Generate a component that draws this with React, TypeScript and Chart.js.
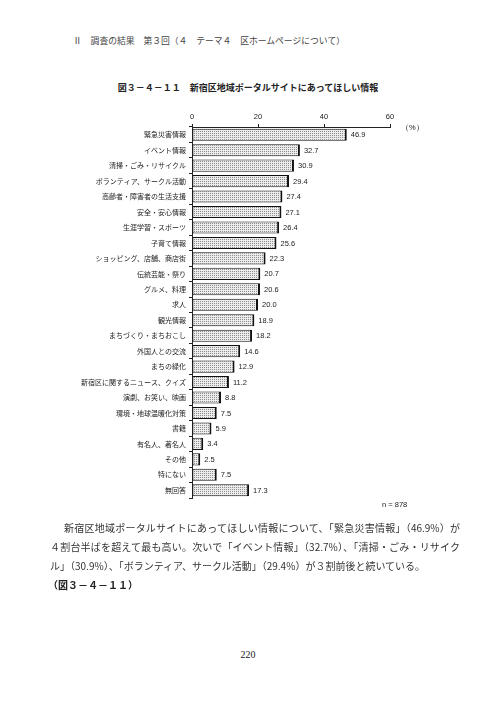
import React, { useEffect, useRef } from "react";
import { Chart, registerables } from "chart.js";

Chart.register(...registerables);

const headerText = "Ⅱ　調査の結果　第３回（４　テーマ４　区ホームページについて）";
const titleText = "図３－４－１１　新宿区地域ポータルサイトにあってほしい情報";
const unitText = "（%）";
const sampleText = "n = 878";
const pageNumber = "220";

const categories = [
  "緊急災害情報",
  "イベント情報",
  "清掃・ごみ・リサイクル",
  "ボランティア、サークル活動",
  "高齢者・障害者の生活支援",
  "安全・安心情報",
  "生涯学習・スポーツ",
  "子育て情報",
  "ショッピング、店舗、商店街",
  "伝統芸能・祭り",
  "グルメ、料理",
  "求人",
  "観光情報",
  "まちづくり・まちおこし",
  "外国人との交流",
  "まちの緑化",
  "新宿区に関するニュース、クイズ",
  "演劇、お笑い、映画",
  "環境・地球温暖化対策",
  "書籍",
  "有名人、著名人",
  "その他",
  "特にない",
  "無回答",
];

const values = [
  46.9, 32.7, 30.9, 29.4, 27.4, 27.1, 26.4, 25.6, 22.3, 20.7, 20.6, 20.0,
  18.9, 18.2, 14.6, 12.9, 11.2, 8.8, 7.5, 5.9, 3.4, 2.5, 7.5, 17.3,
];

const axisMin = 0;
const axisMax = 60;
const axisStep = 20;

const bodyLines = [
  "新宿区地域ポータルサイトにあってほしい情報について、「緊急災害情報」（46.9%）が",
  "４割台半ばを超えて最も高い。次いで「イベント情報」（32.7%）、「清掃・ごみ・リサイク",
  "ル」（30.9%）、「ボランティア、サークル活動」（29.4%）が３割前後と続いている。",
];
const bodyRef = "（図３－４－１１）";

const JP = '"Noto Sans CJK JP", "Noto Sans", sans-serif';
const ARIAL = '"Liberation Sans", Arial, sans-serif';

function makePattern(): CanvasPattern | string {
  const c = document.createElement("canvas");
  c.width = 2;
  c.height = 2;
  const ctx = c.getContext("2d");
  if (!ctx) return "#d8d8d8";
  ctx.fillStyle = "#ececec";
  ctx.fillRect(0, 0, 2, 2);
  ctx.fillStyle = "#8c8c8c";
  ctx.fillRect(0, 0, 1, 1);
  const p = ctx.createPattern(c, "repeat");
  return p || "#d8d8d8";
}

const valueLabelPlugin = {
  id: "valueLabels",
  afterDatasetsDraw(chart: any) {
    const ctx = chart.ctx;
    const meta = chart.getDatasetMeta(0);
    ctx.save();
    ctx.font = `7.5px ${ARIAL}`;
    ctx.fillStyle = "#222";
    ctx.textAlign = "left";
    ctx.textBaseline = "middle";
    meta.data.forEach((bar: any, i: number) => {
      const v = chart.data.datasets[0].data[i];
      ctx.fillText(Number(v).toFixed(1), bar.x + 4, bar.y + 0.5);
    });
    ctx.restore();
  },
};

function BarChart() {
  const ref = useRef<HTMLCanvasElement | null>(null);
  useEffect(() => {
    if (!ref.current) return;
    const chart = new Chart(ref.current, {
      type: "bar",
      data: {
        labels: categories,
        datasets: [
          {
            data: values,
            backgroundColor: makePattern() as any,
            borderColor: "#111",
            borderWidth: { top: 1, left: 1, bottom: 1, right: 2 } as any,
            borderSkipped: false,
            barPercentage: 0.78,
            categoryPercentage: 1,
          },
        ],
      },
      options: {
        indexAxis: "y",
        animation: false,
        responsive: false,
        maintainAspectRatio: false,
        layout: { padding: { left: 0, right: 106, top: 0, bottom: 17 } },
        plugins: {
          legend: { display: false },
          tooltip: { enabled: false },
          title: { display: false },
        },
        scales: {
          x: {
            position: "top",
            min: axisMin,
            max: axisMax,
            ticks: {
              stepSize: axisStep,
              color: "#222",
              font: { family: ARIAL, size: 7.5 },
              padding: 3,
            },
            grid: {
              drawOnChartArea: false,
              drawTicks: true,
              tickLength: 3,
              color: "#222",
            },
            border: { display: true, color: "#222", width: 1 },
            afterFit: (scale: any) => {
              scale.height = 32;
            },
          },
          y: {
            ticks: {
              color: "#222",
              font: { family: JP, size: 7 },
              padding: 3,
              autoSkip: false,
            },
            grid: {
              drawOnChartArea: false,
              drawTicks: true,
              tickLength: 3,
              color: "#222",
              offset: true,
            },
            border: { display: true, color: "#222", width: 1 },
            afterFit: (scale: any) => {
              scale.width = 192;
            },
          },
        },
      },
      plugins: [valueLabelPlugin],
    });
    return () => chart.destroy();
  }, []);
  return (
    <canvas
      ref={ref}
      width={496}
      height={420}
      style={{ position: "absolute", left: 0, top: 95, width: 496, height: 420 }}
    />
  );
}

export default function App() {
  const abs = (left: number, centerY: number, lh: number): React.CSSProperties => ({
    position: "absolute",
    left,
    top: centerY - lh / 2,
    lineHeight: `${lh}px`,
    whiteSpace: "nowrap",
  });
  const justified = (left: number, cy: number, width: number): React.CSSProperties => ({
    ...abs(left, cy, 14),
    width,
    fontSize: 10,
    textAlign: "justify",
    textAlignLast: "justify",
    whiteSpace: "normal",
    color: "#333",
  });
  return (
    <div
      style={{
        position: "absolute",
        left: 0,
        top: 0,
        width: 496,
        height: 702,
        background: "#fff",
        overflow: "hidden",
        fontFamily: JP,
        color: "#222",
      }}
    >
      <div style={{ ...abs(73, 41, 12), fontSize: 8.8, color: "#444" }}>{headerText}</div>
      <div
        style={{
          position: "absolute",
          left: 0,
          width: 496,
          top: 88 - 7,
          lineHeight: "14px",
          textAlign: "center",
          fontSize: 9,
          fontWeight: 700,
          whiteSpace: "nowrap",
        }}
      >
        {titleText}
      </div>
      <BarChart />
      <div style={{ ...abs(401, 128, 10), fontSize: 7.5, fontFamily: ARIAL }}>{unitText}</div>
      <div style={{ ...abs(382, 505, 10), fontSize: 7.5, fontFamily: ARIAL }}>{sampleText}</div>
      <div style={justified(64, 528, 396)}>{bodyLines[0]}</div>
      <div style={justified(50, 547, 410)}>{bodyLines[1]}</div>
      <div style={{ ...abs(50, 566, 14), fontSize: 10, color: "#333" }}>{bodyLines[2]}</div>
      <div style={{ ...abs(48, 585, 14), fontSize: 10, fontWeight: 700 }}>{bodyRef}</div>
      <div
        style={{
          position: "absolute",
          left: 0,
          width: 496,
          top: 655 - 7,
          lineHeight: "14px",
          textAlign: "center",
          fontSize: 10,
          fontFamily: '"Liberation Serif", "DejaVu Serif", serif',
        }}
      >
        {pageNumber}
      </div>
    </div>
  );
}
